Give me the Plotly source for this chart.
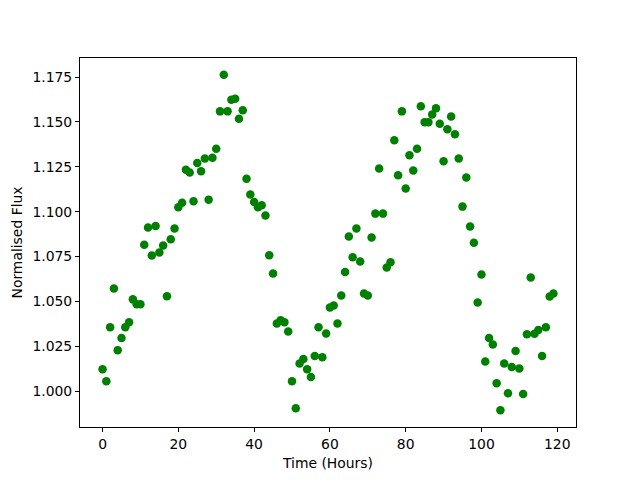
import plotly.graph_objects as go

hours = list(range(120))
flux = [
    1.0122, 1.0054, 1.0355, 1.0572, 1.0228, 1.0295, 1.0355, 1.0384, 1.0511, 1.0484,
    1.0484, 1.0815, 1.0911, 1.0756, 1.0920, 1.0772, 1.0811, 1.0529, 1.0846, 1.0906,
    1.1025, 1.1049, 1.1234, 1.1218, 1.1058, 1.1271, 1.1225, 1.1296, 1.1067, 1.1301,
    1.1351, 1.1559, 1.1763, 1.1559, 1.1624, 1.1629, 1.1518, 1.1565, 1.1184, 1.1095,
    1.1054, 1.1025, 1.1036, 1.0978, 1.0757, 1.0655, 1.0377, 1.0395, 1.0384, 1.0332,
    1.0054, 0.9904, 1.0154, 1.0178, 1.0121, 1.0078, 1.0195, 1.0355, 1.0188, 1.0321,
    1.0466, 1.0477, 1.0377, 1.0533, 1.0663, 1.0861, 1.0746, 1.0906, 1.0722, 1.0544,
    1.0533, 1.0856, 1.0989, 1.1240, 1.0989, 1.0689, 1.0718, 1.1398, 1.1203, 1.1559,
    1.1129, 1.1314, 1.1229, 1.1351, 1.1587, 1.1499, 1.1499, 1.1541, 1.1576, 1.1490,
    1.1281, 1.1459, 1.1531, 1.1431, 1.1296, 1.1028, 1.1190, 1.0917, 1.0826, 1.0494,
    1.0650, 1.0165, 1.0295, 1.0260, 1.0043, 0.9893, 1.0154, 0.9987, 1.0134, 1.0223,
    1.0126, 0.9983, 1.0316, 1.0633, 1.0319, 1.0340, 1.0195, 1.0355, 1.0527, 1.0544,
]

x_title = "Time (Hours)"
y_title = "Normalised Flux"

def padded(vals, frac=0.05):
    lo, hi = min(vals), max(vals)
    d = (hi - lo) * frac
    return [lo - d, hi + d]

fig = go.Figure(go.Scatter(
    x=hours, y=flux, mode="markers",
    marker=dict(color="#008000", size=8.5, line=dict(width=0)),
))

FS = 13.9
axis_common = dict(
    showline=True, linecolor="black", linewidth=1, mirror=True,
    ticks="outside", ticklen=4, tickcolor="black", tickwidth=1,
    showgrid=False, zeroline=False, automargin=False,
    tickfont=dict(family="DejaVu Sans", size=FS, color="black"),
)

fig.update_layout(
    width=640, height=480,
    paper_bgcolor="white", plot_bgcolor="white",
    margin=dict(l=80, r=64, t=58, b=53),
    showlegend=False,
    font=dict(family="DejaVu Sans", size=FS, color="black"),
    xaxis=dict(range=padded(hours), dtick=20, tick0=0,
               title=dict(text=x_title, font=dict(size=FS), standoff=7), **axis_common),
    yaxis=dict(range=padded(flux), dtick=0.025, tick0=1.0, tickformat=".3f",
               title=dict(text=y_title, font=dict(size=FS), standoff=6), **axis_common),
)

fig.write_html("out.html", config={"displayModeBar": False},
               post_script="document.body.style.margin='0';")
